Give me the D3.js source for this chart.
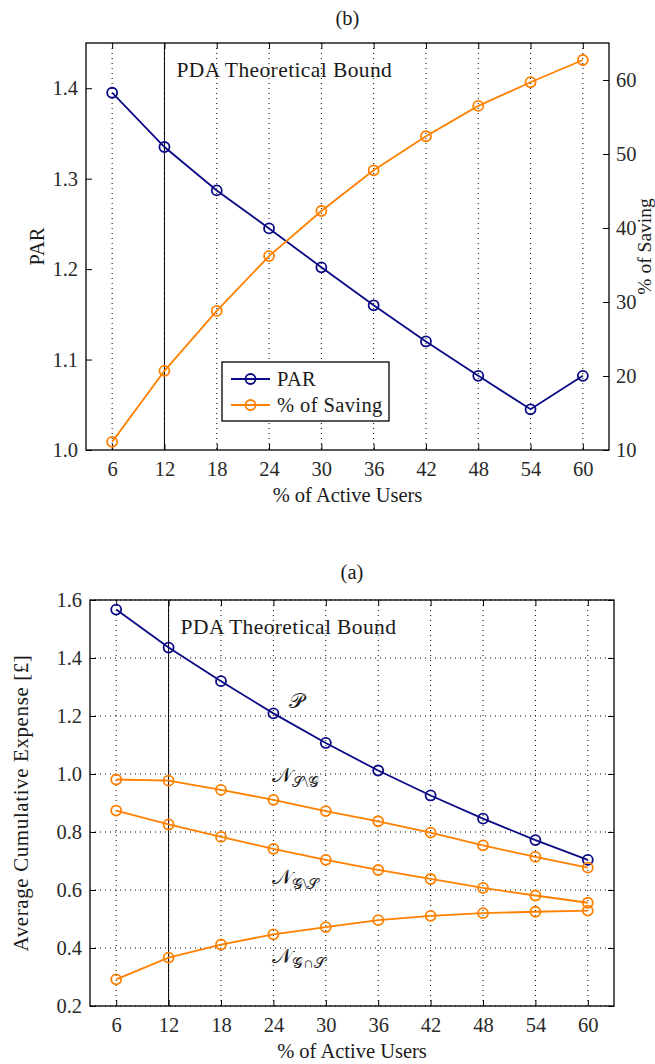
<!DOCTYPE html>
<html>
<head>
<meta charset="utf-8">
<script src="https://cdn.jsdelivr.net/npm/d3@7"></script>
<style>
  body { margin: 0; background: #fff; }
  svg text { font-family: "Liberation Serif", "Times New Roman", serif; }
</style>
</head>
<body>
<div id="container"></div>
<script>
// données
const users = [6, 12, 18, 24, 30, 36, 42, 48, 54, 60];

// panneau (b)
const parValues = [1.395, 1.335, 1.287, 1.245, 1.202, 1.160, 1.120, 1.082, 1.045, 1.082];
const savingValues = [11.1, 20.7, 28.8, 36.2, 42.3, 47.8, 52.4, 56.5, 59.7, 62.7];
const parTicks = [1.0, 1.1, 1.2, 1.3, 1.4];
const savingTicks = [10, 20, 30, 40, 50, 60];

// panneau (a)
const pValues = [1.567, 1.436, 1.320, 1.209, 1.107, 1.012, 0.926, 0.846, 0.772, 0.704];
const nSminusG = [0.981, 0.977, 0.945, 0.911, 0.872, 0.837, 0.798, 0.754, 0.714, 0.677];
const nGminusS = [0.874, 0.826, 0.783, 0.742, 0.704, 0.669, 0.638, 0.607, 0.581, 0.556];
const nGandS = [0.292, 0.367, 0.412, 0.447, 0.472, 0.496, 0.511, 0.520, 0.525, 0.529];
const expenseTicks = [0.2, 0.4, 0.6, 0.8, 1.0, 1.2, 1.4, 1.6];

const boundUsers = 12;
const navy = "#0a0a86";
const orange = "#ff8000";
const serif = "'Liberation Serif', 'Times New Roman', serif";
const fs = 20.5;

const svg = d3.select("#container")
  .append("svg")
  .attr("width", 655)
  .attr("height", 1064);

/**
 * dessine une série : ligne + cercles
 */
function drawSeries(g, x, y, values, color) {
  const pts = users.map((u, i) => [u, values[i]]);
  const line = d3.line().x(d => x(d[0])).y(d => y(d[1]));
  g.append("path")
    .datum(pts)
    .attr("d", line)
    .attr("fill", "none")
    .attr("stroke", color)
    .attr("stroke-width", 1.8);
  g.selectAll(null)
    .data(pts)
    .enter()
    .append("circle")
    .attr("cx", d => x(d[0]))
    .attr("cy", d => y(d[1]))
    .attr("r", 5)
    .attr("fill", "none")
    .attr("stroke", color)
    .attr("stroke-width", 1.8);
}

// style commun des axes
function styleAxis(sel) {
  sel.attr("font-family", serif);
  sel.select(".domain").remove();
  sel.selectAll("line").attr("stroke", "#000").attr("stroke-width", 1);
  sel.selectAll("text")
    .attr("fill", "#2a2a2a")
    .style("font-family", serif)
    .style("font-size", fs + "px");
}

// texte simple
function addText(g, x, y, str, size, anchor) {
  return g.append("text")
    .attr("x", x)
    .attr("y", y)
    .attr("text-anchor", anchor || "start")
    .attr("fill", "#1a1a1a")
    .style("font-family", serif)
    .style("font-size", size + "px")
    .text(str);
}

/**
 * cadre commun : grille, axes, ligne de borne
 */
function drawFrame(g, x, y, box, opts) {
  // grille verticale pointillée
  g.selectAll(null)
    .data(users)
    .enter()
    .append("line")
    .attr("x1", d => x(d)).attr("x2", d => x(d))
    .attr("y1", box.top).attr("y2", box.bottom)
    .attr("stroke", "#000")
    .attr("stroke-width", 1)
    .attr("stroke-dasharray", "1,4");

  if (opts.hgrid) {
    g.selectAll(null)
      .data(opts.yTicks)
      .enter()
      .append("line")
      .attr("x1", box.left).attr("x2", box.right)
      .attr("y1", d => y(d)).attr("y2", d => y(d))
      .attr("stroke", "#000")
      .attr("stroke-width", 1)
      .attr("stroke-dasharray", "1,4");
  }

  // axe x en bas + ticks en haut
  const xAxis = g.append("g")
    .attr("transform", `translate(0,${box.bottom})`)
    .call(d3.axisBottom(x).tickValues(users).tickSizeInner(-6).tickSizeOuter(0).tickPadding(11).tickFormat(d3.format("d")));
  styleAxis(xAxis);

  const xTop = g.append("g")
    .attr("transform", `translate(0,${box.top})`)
    .call(d3.axisTop(x).tickValues(users).tickSizeInner(-6).tickSizeOuter(0).tickFormat(""));
  styleAxis(xTop);

  // axe y gauche
  const yAxis = g.append("g")
    .attr("transform", `translate(${box.left},0)`)
    .call(d3.axisLeft(y).tickValues(opts.yTicks).tickSizeInner(-6).tickSizeOuter(0).tickPadding(8).tickFormat(d3.format(".1f")));
  styleAxis(yAxis);

  // ligne verticale de la borne théorique
  g.append("line")
    .attr("x1", x(boundUsers)).attr("x2", x(boundUsers))
    .attr("y1", box.top).attr("y2", box.bottom)
    .attr("stroke", "#000")
    .attr("stroke-width", 1);

  addText(g, x(boundUsers) + 12, opts.boundY, "PDA Theoretical Bound", 21.5)
    .style("letter-spacing", "0.4px");

  // libellé de l'axe x
  addText(g, (box.left + box.right) / 2, opts.xLabelY, "% of Active Users", fs, "middle");
}

/*
 * panneau (b) : PAR et % d'économie
 */
function drawPanelB() {
  const box = { left: 86, right: 609, top: 43, bottom: 450 };
  const g = svg.append("g");

  const x = d3.scaleLinear().domain([3, 63]).range([box.left, box.right]);
  const yL = d3.scaleLinear().domain([1.0, 1.45]).range([box.bottom, box.top]);
  const yR = d3.scaleLinear().domain([10, 65]).range([box.bottom, box.top]);

  addText(g, (box.left + box.right) / 2, 25, "(b)", fs, "middle");

  drawFrame(g, x, yL, box, { yTicks: parTicks, hgrid: false, boundY: 77, xLabelY: 502 });

  // axe y droit
  const rAxis = g.append("g")
    .attr("transform", `translate(${box.right},0)`)
    .call(d3.axisRight(yR).tickValues(savingTicks).tickSizeInner(-6).tickSizeOuter(0).tickPadding(7));
  styleAxis(rAxis);

  drawSeries(g, x, yL, parValues, navy);
  drawSeries(g, x, yR, savingValues, orange);

  // cadre
  g.append("rect")
    .attr("x", box.left).attr("y", box.top)
    .attr("width", box.right - box.left).attr("height", box.bottom - box.top)
    .attr("fill", "none").attr("stroke", "#000").attr("stroke-width", 1.3);

  // libellés des axes y
  addText(g, 0, 0, "PAR", fs, "middle")
    .attr("transform", `translate(44,${(box.top + box.bottom) / 2}) rotate(-90)`);
  addText(g, 0, 0, "% of Saving", 19.5, "middle")
    .attr("transform", `translate(651,${(box.top + box.bottom) / 2}) rotate(-90)`);

  // légende
  const lg = g.append("g").attr("transform", "translate(222,362)");
  lg.append("rect")
    .attr("width", 167).attr("height", 59)
    .attr("fill", "#fff").attr("stroke", "#000").attr("stroke-width", 1.3);

  const entries = [
    { label: "PAR", color: navy },
    { label: "% of Saving", color: orange }
  ];
  entries.forEach(function(e, i) {
    const cy = 17 + i * 26;
    lg.append("line")
      .attr("x1", 9).attr("x2", 48)
      .attr("y1", cy).attr("y2", cy)
      .attr("stroke", e.color).attr("stroke-width", 1.8);
    lg.append("circle")
      .attr("cx", 28.5).attr("cy", cy).attr("r", 5)
      .attr("fill", "none").attr("stroke", e.color).attr("stroke-width", 1.8);
    addText(lg, 55, cy + 7, e.label, fs)
      .style("letter-spacing", "0.4px");
  });
}

/*
 * panneau (a) : dépense cumulée moyenne
 */
function drawPanelA() {
  const box = { left: 90, right: 614, top: 600, bottom: 1006 };
  const g = svg.append("g");

  const x = d3.scaleLinear().domain([3, 63]).range([box.left, box.right]);
  const y = d3.scaleLinear().domain([0.2, 1.6]).range([box.bottom, box.top]);

  addText(g, (box.left + box.right) / 2, 579, "(a)", fs, "middle");

  drawFrame(g, x, y, box, { yTicks: expenseTicks, hgrid: true, boundY: 634, xLabelY: 1058 });

  const rAxis = g.append("g")
    .attr("transform", `translate(${box.right},0)`)
    .call(d3.axisRight(y).tickValues(expenseTicks).tickSizeInner(-6).tickSizeOuter(0).tickFormat(""));
  styleAxis(rAxis);

  drawSeries(g, x, y, pValues, navy);
  drawSeries(g, x, y, nSminusG, orange);
  drawSeries(g, x, y, nGminusS, orange);
  drawSeries(g, x, y, nGandS, orange);

  g.append("rect")
    .attr("x", box.left).attr("y", box.top)
    .attr("width", box.right - box.left).attr("height", box.bottom - box.top)
    .attr("fill", "none").attr("stroke", "#000").attr("stroke-width", 1.3);

  addText(g, 0, 0, "Average Cumulative Expense [£]", 21, "middle")
    .style("letter-spacing", "0.6px")
    .attr("transform", `translate(28,${(box.top + box.bottom) / 2}) rotate(-90)`);

  // étiquettes des courbes
  const labels = [
    { main: "𝒫", sub: "", x: 289, y: 708 },
    { main: "𝒩", sub: "𝒮\\𝒢", x: 272, y: 782 },
    { main: "𝒩", sub: "𝒢\\𝒮", x: 272, y: 884 },
    { main: "𝒩", sub: "𝒢∩𝒮", x: 272, y: 963 }
  ];
  labels.forEach(function(l) {
    const t = addText(g, l.x, l.y, "", 21);
    t.append("tspan").text(l.main);
    if (l.sub) {
      t.append("tspan")
        .attr("dy", 5)
        .style("font-size", "15px")
        .text(l.sub);
    }
  });
}

drawPanelB();
drawPanelA();
</script>
</body>
</html>
